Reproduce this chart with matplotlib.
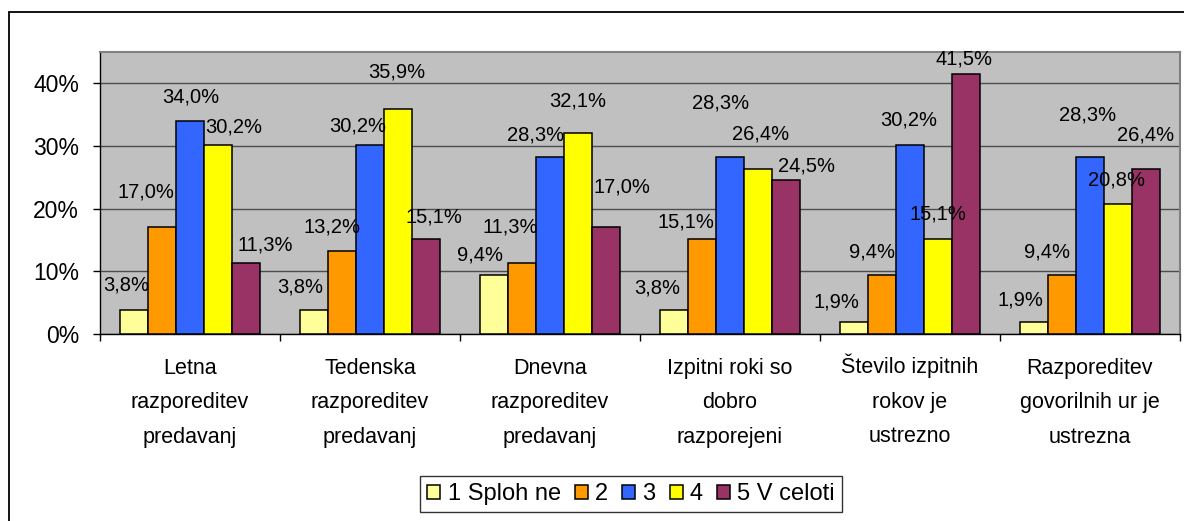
import matplotlib
matplotlib.use("Agg")
import matplotlib.pyplot as plt
import matplotlib.transforms as mtransforms
import numpy as np
from matplotlib.patches import Rectangle

plt.rcParams["font.family"] = ["Liberation Sans", "DejaVu Sans"]

categories = [
    "Letna\nrazporeditev\npredavanj",
    "Tedenska\nrazporeditev\npredavanj",
    "Dnevna\nrazporeditev\npredavanj",
    "Izpitni roki so\ndobro\nrazporejeni",
    "Število izpitnih\nrokov je\nustrezno",
    "Razporeditev\ngovorilnih ur je\nustrezna",
]
series_names = ["1 Sploh ne", "2", "3", "4", "5 V celoti"]
s1 = [3.8, 3.8, 9.4, 3.8, 1.9, 1.9]
s2 = [17.0, 13.2, 11.3, 15.1, 9.4, 9.4]
s3 = [34.0, 30.2, 28.3, 28.3, 30.2, 28.3]
s4 = [30.2, 35.9, 32.1, 26.4, 15.1, 20.8]
s5 = [11.3, 15.1, 17.0, 24.5, 41.5, 26.4]
series = [s1, s2, s3, s4, s5]

colors = ["#FFFF99", "#FF9900", "#3366FF", "#FFFF00", "#993366"]

# data-label nudges in pixels (dx, dy above bar top), one row per series,
# mimicking the hand-placed labels of the original sheet
label_dx = [[-8, -14, -14, -17, -17, -13],
            [-16, -10, -12, -16, -10, -15],
            [1, -12, -14, -9, -1, -2],
            [16, -1, 0, 2, 0, -2],
            [19, 8, 16, 20, -2, -1]]
label_dy = [[25, 23, 20, 22, 20, 22],
            [35, 24, 36, 17, 23, 23],
            [24, 19, 22, 54, 25, 42],
            [18, 37, 32, 35, 25, 24],
            [18, 22, 40, 14, 15, 34]]

fig = plt.figure(figsize=(11.84, 5.21), dpi=100)
ax = fig.add_axes([100 / 1184, 1 - 334 / 521, 1080 / 1184, 282 / 521])
ax.set_facecolor("#C0C0C0")

x = np.arange(len(categories))
w = 0.156
for i, (vals, col, name) in enumerate(zip(series, colors, series_names)):
    pos = x + (i - 2) * w
    ax.bar(pos, vals, width=w, color=col, edgecolor="black", linewidth=1.1,
           label=name, zorder=3)
    for j, (px, v) in enumerate(zip(pos, vals)):
        ax.annotate(f"{v:.1f}%".replace(".", ","), xy=(px, v),
                    xytext=(label_dx[i][j], label_dy[i][j]),
                    textcoords="offset pixels", ha="center", va="center",
                    fontsize=14.5, zorder=5)

ax.set_xlim(-0.5, len(categories) - 0.5)
ax.set_ylim(0, 45)
ax.set_yticks([0, 10, 20, 30, 40])
ax.set_yticklabels(["0%", "10%", "20%", "30%", "40%"], fontsize=16.5)
ax.yaxis.grid(True, color="#4d4d4d", linewidth=1.0, zorder=1)
ax.set_axisbelow(True)

ax.set_xticks(x)
ax.set_xticklabels(categories, fontsize=15.5, linespacing=1.85)
ax.set_xticks(np.arange(-0.5, len(categories)), minor=True)
ax.tick_params(axis="x", which="major", length=0, pad=17)
ax.tick_params(axis="x", which="minor", length=5, width=1, direction="out")
ax.tick_params(axis="y", length=5, width=1, pad=10)

# the caron on "Š" makes that label taller; lift it back in line with the rest
for lbl in ax.get_xticklabels():
    if lbl.get_text().startswith("Š"):
        lbl.set_transform(lbl.get_transform() +
                          mtransforms.ScaledTranslation(0, 4 / 100, fig.dpi_scale_trans))

for side in ("top", "right"):
    ax.spines[side].set_color("#808080")
    ax.spines[side].set_linewidth(1.5)
for side in ("left", "bottom"):
    ax.spines[side].set_color("black")
    ax.spines[side].set_linewidth(1.0)

leg = fig.legend(loc="center", bbox_to_anchor=(631 / 1184, 1 - 494 / 521),
                 ncol=5, fontsize=17, frameon=True, fancybox=False,
                 handlelength=0.55, handleheight=0.55, handletextpad=0.3,
                 columnspacing=0.6, borderpad=0.3, borderaxespad=0)
leg.get_frame().set_edgecolor("black")
leg.get_frame().set_linewidth(1.0)

fig.patches.append(Rectangle((9 / 1184, -0.1), 1.2, 1.1 - 12 / 521,
                             transform=fig.transFigure, fill=False,
                             edgecolor="black", linewidth=1.3))

fig.savefig("out.png", dpi=100)
